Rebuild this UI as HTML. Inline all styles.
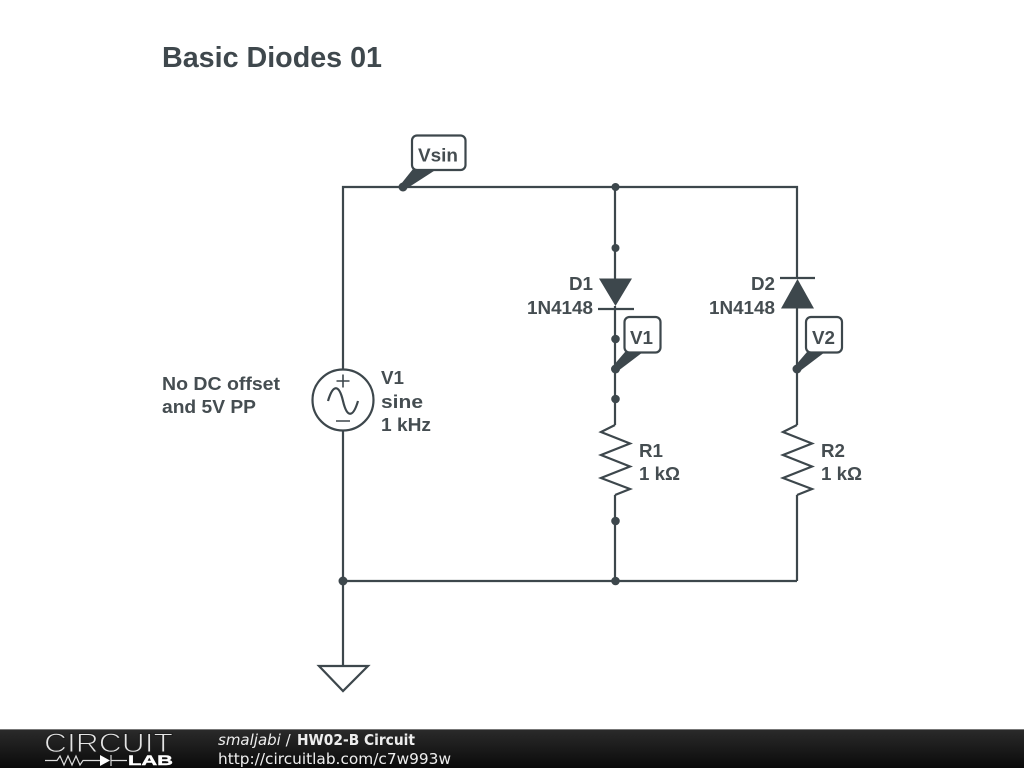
<!DOCTYPE html>
<html><head><meta charset="utf-8"><style>
html,body{margin:0;padding:0;background:#fff;width:1024px;height:768px;overflow:hidden}
svg{display:block}
.w{stroke:#3d474c;stroke-width:2.2;fill:none}
.t{font-family:"Liberation Sans",sans-serif;font-size:18.7px;font-weight:bold;fill:#454d51}
.f{font-family:"DejaVu Sans",sans-serif;font-size:15px;fill:#eee}
</style></head><body>
<svg width="1024" height="768" viewBox="0 0 1024 768" xmlns="http://www.w3.org/2000/svg">
<defs><linearGradient id="g" x1="0" y1="0" x2="0" y2="1"><stop offset="0" stop-color="#2b2b2b"/><stop offset="1" stop-color="#0a0a0a"/></linearGradient></defs>
<rect width="1024" height="768" fill="#fff"/>
<text x="162" y="67" font-family="'Liberation Sans',sans-serif" font-weight="bold" font-size="28.7" fill="#3f484d" textLength="220" lengthAdjust="spacingAndGlyphs">Basic Diodes 01</text>

<path class="w" d="M343 369V187H797V278M615 187V279M615 306V425M797 308V425M343 431V666M343 581H797M615 495V581M797 495V581"/>
<circle class="w" cx="343" cy="400" r="30.500"/>
<path d="M336.500 381H349.500M343 374.500V387.500M336 421H350" stroke="#3d474c" stroke-width="1.600" fill="none"/>
<path class="w" d="M328 401C333 384 339 384 343 401C347 418 353 418 358 401"/>

<path d="M599 278.500H632L615.500 306Z" fill="#3d474c"/>
<path d="M598 309H634" class="w"/>
<path d="M780 278H815" class="w"/>
<path d="M797.500 279L814 308.500H781Z" fill="#3d474c"/>

<path class="w" d="M615 425L601 432L630 443.500L601 455L630 466.500L601 478L630 489L615 495"/>
<path class="w" d="M797 425L783 432L812 443.500L783 455L812 466.500L783 478L812 489L797 495"/>

<path class="w" d="M343 666H319L343 691L368 666Z" stroke-linejoin="miter"/>

<g fill="#3d474c">
<circle cx="403" cy="187" r="4.500"/><circle cx="615.500" cy="187" r="4"/><circle cx="615.500" cy="248" r="4"/>
<circle cx="615.500" cy="339" r="4.300"/><circle cx="615.500" cy="369" r="4.500"/><circle cx="615.500" cy="399" r="4.300"/>
<circle cx="615.500" cy="521" r="4.300"/><circle cx="615.500" cy="581" r="4.300"/><circle cx="343" cy="581" r="4.500"/>
<circle cx="797" cy="369" r="4.500"/>
<path d="M401 184L413 169H437L406 189Z"/>
<path d="M613 366L625 352H643L618 371Z"/>
<path d="M795 366L807 352H825L800 371Z"/>
</g>
<rect x="412" y="135.500" width="53.500" height="34.500" rx="5" fill="#fff" stroke="#3d474c" stroke-width="2.200"/>
<rect x="624.500" y="317" width="36" height="35.500" rx="5" fill="#fff" stroke="#3d474c" stroke-width="2.200"/>
<rect x="806" y="317" width="36" height="35.500" rx="5" fill="#fff" stroke="#3d474c" stroke-width="2.200"/>
<text class="t" x="418" y="161.500" textLength="40" lengthAdjust="spacingAndGlyphs">Vsin</text>
<text class="t" x="630" y="344" textLength="23" lengthAdjust="spacingAndGlyphs">V1</text>
<text class="t" x="812" y="344" textLength="23" lengthAdjust="spacingAndGlyphs">V2</text>

<text class="t" x="569" y="290" textLength="24" lengthAdjust="spacingAndGlyphs">D1</text>
<text class="t" x="527" y="314" textLength="66" lengthAdjust="spacingAndGlyphs">1N4148</text>
<text class="t" x="751" y="290" textLength="24" lengthAdjust="spacingAndGlyphs">D2</text>
<text class="t" x="709" y="314" textLength="66" lengthAdjust="spacingAndGlyphs">1N4148</text>
<text class="t" x="381" y="384" textLength="23" lengthAdjust="spacingAndGlyphs">V1</text>
<text class="t" x="381" y="408" textLength="42" lengthAdjust="spacingAndGlyphs">sine</text>
<text class="t" x="381" y="431" textLength="50" lengthAdjust="spacingAndGlyphs">1 kHz</text>
<text class="t" x="639" y="457" textLength="24" lengthAdjust="spacingAndGlyphs">R1</text>
<text class="t" x="639" y="480" textLength="41" lengthAdjust="spacingAndGlyphs">1 kΩ</text>
<text class="t" x="821" y="457" textLength="24" lengthAdjust="spacingAndGlyphs">R2</text>
<text class="t" x="821" y="480" textLength="41" lengthAdjust="spacingAndGlyphs">1 kΩ</text>
<text class="t" x="162" y="390" textLength="118" lengthAdjust="spacingAndGlyphs">No DC offset</text>
<text class="t" x="162" y="413" textLength="94" lengthAdjust="spacingAndGlyphs">and 5V PP</text>

<rect x="0" y="729" width="1024" height="39" fill="url(#g)"/>
<rect x="0" y="729" width="1024" height="1" fill="#777"/>
<text x="44" y="752" font-family="'Liberation Sans',sans-serif" font-size="26.500" fill="#e4e4e4" stroke="#1e1e1e" stroke-width="1" textLength="129" lengthAdjust="spacingAndGlyphs">CIRCUIT</text>
<text x="128" y="765" font-family="'Liberation Sans',sans-serif" font-size="14" font-weight="bold" fill="#fff" stroke="#fff" stroke-width=".4" textLength="45" lengthAdjust="spacingAndGlyphs">LAB</text>
<path d="M45 760.500H57L60 756L64 765L68 756L72 765L76 756L80 765L83 760.500H100M111 760.500H127M111 755V766" stroke="#ddd" stroke-width="1.200" fill="none"/>
<path d="M100 755L110 760.500L100 766Z" fill="#fff"/>
<text class="f" x="218" y="745"><tspan font-style="italic">smaljabi</tspan> /</text>
<text class="f" x="297" y="745" font-weight="bold" textLength="118" lengthAdjust="spacingAndGlyphs">HW02-B Circuit</text>
<text class="f" x="218" y="764" textLength="233" lengthAdjust="spacingAndGlyphs">http://circuitlab.com/c7w993w</text>
</svg>
</body></html>
